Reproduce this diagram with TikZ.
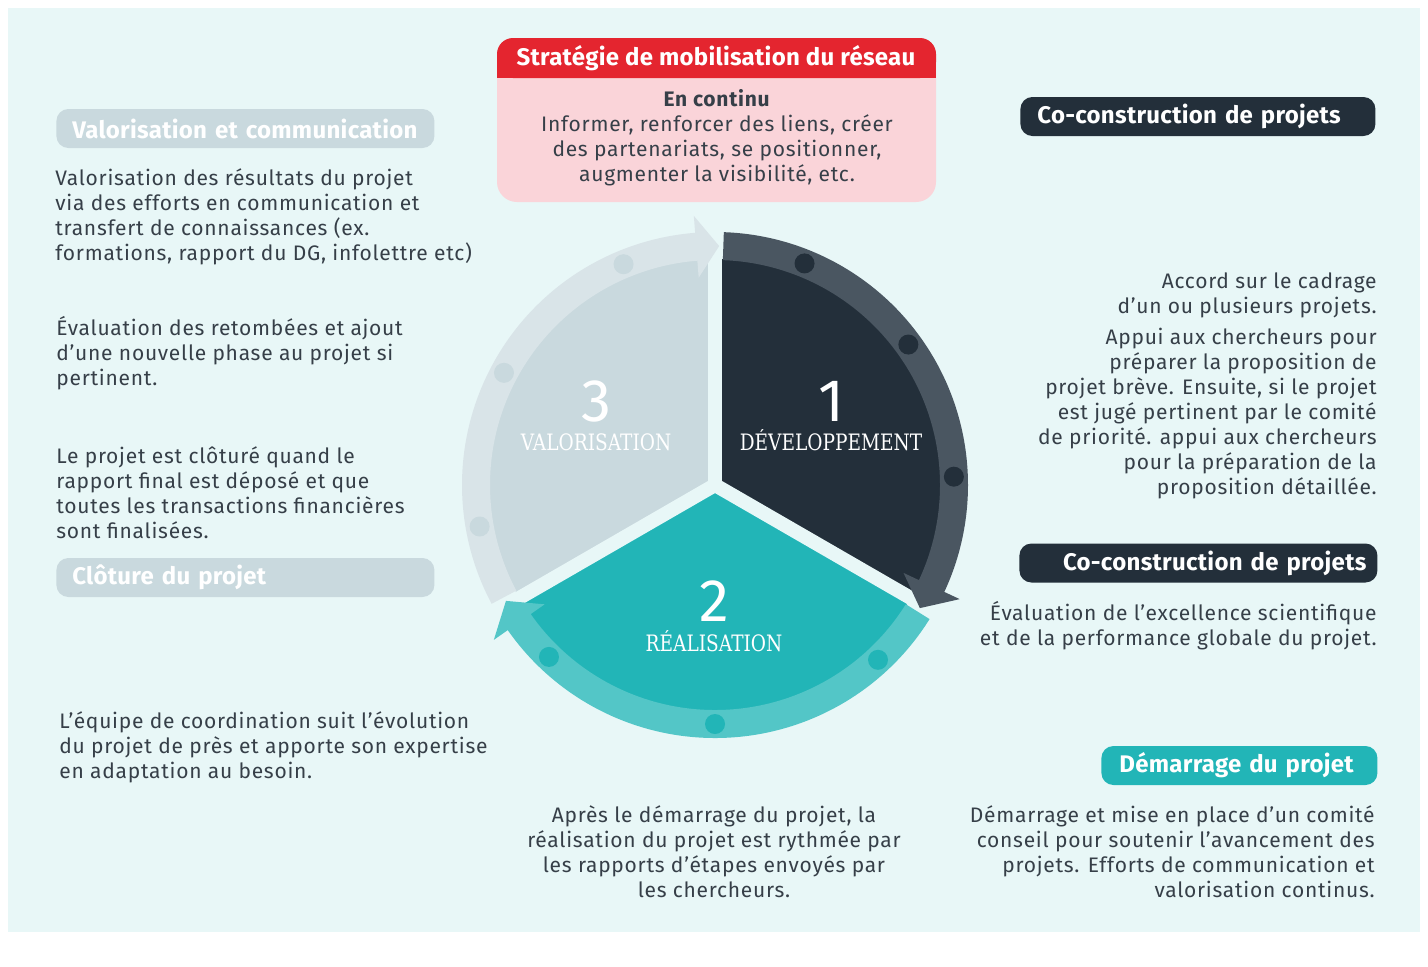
\documentclass[tikz,border=0pt]{standalone}
\usepackage{fontspec}
\setmainfont{Fira Sans}[LetterSpace=3.5]
\newfontfamily\tagfont{Fira Sans}[LetterSpace=1.2]
\newfontfamily\slabfont[FakeStretch=0.82]{DejaVu Serif}
\definecolor{bgcol}{HTML}{E8F7F7}
\definecolor{darkA}{HTML}{232F3A}
\definecolor{darkB}{HTML}{4A5661}
\definecolor{tealA}{HTML}{22B5B7}
\definecolor{tealB}{HTML}{53C6C7}
\definecolor{greyA}{HTML}{C9D9DE}
\definecolor{greyB}{HTML}{D9E4E8}
\definecolor{stratred}{HTML}{E4252F}
\definecolor{stratpink}{HTML}{FAD4D9}
\definecolor{txtcol}{HTML}{363F48}
\begin{document}
\begin{tikzpicture}[x=0.5pt,y=-0.5pt]
 \tikzset{txt/.style={font=\fontsize{10.5}{12.5}\selectfont, text=txtcol, inner sep=0pt}}
 \tikzset{tag/.style={font=\tagfont\bfseries\fontsize{12}{14}\selectfont, text=white, rounded corners=6pt, minimum height=19.5pt, inner ysep=0pt, anchor=west, align=left}}
 \tikzset{phase/.style={font=\slabfont\fontsize{11.3}{12}\selectfont, text=white, inner sep=0pt, anchor=base}}
 \tikzset{num/.style={font=\fontsize{30}{30}\selectfont, text=white, inner sep=0pt, anchor=base}}
  \useasboundingbox (0,0) rectangle (1428,966);
  \fill[bgcol] (8,8) rectangle (1420,932);
  % roue des phases
  \begin{scope}[shift={(715,485)}, y=0.5pt]
  \fill[darkA] (0,0) -- (90:226) arc (90:-30:226) -- cycle;
  \fill[tealA] (0,0) -- (-30:226) arc (-30:-150:226) -- cycle;
  \fill[greyA] (0,0) -- (210:226) arc (210:90:226) -- cycle;
  \draw[bgcol, line width=7pt, line cap=round] (0,0) -- (90:228);
  \draw[bgcol, line width=7pt, line cap=round] (0,0) -- (-30:228);
  \draw[bgcol, line width=7pt, line cap=round] (0,0) -- (210:228);
  \fill[darkB] (88:253) arc (88:-25:253) -- (-25:270) -- (-31:239) -- (-25:208) -- (-25:225) arc (-25:88:225) -- cycle;
  \fill[tealB] (-32:253) arc (-32:-145:253) -- (-145:270) -- (-151:239) -- (-145:208) -- (-145:225) arc (-145:-32:225) -- cycle;
  \fill[greyB] (208:253) arc (208:94.5:253) -- (94.5:270) -- (89:239) -- (94.5:208) -- (94.5:225) arc (94.5:208:225) -- cycle;
  \fill[darkA] (68:239) circle (10);
  \fill[darkA] (36:239) circle (10);
  \fill[darkA] (2:239) circle (10);
  \fill[tealA] (-47:239) circle (10);
  \fill[tealA] (-90:239) circle (10);
  \fill[tealA] (-134:239) circle (10);
  \fill[greyA] (190:239) circle (10);
  \fill[greyA] (152:239) circle (10);
  \fill[greyA] (112.5:239) circle (10);
  \end{scope}
  \node[num] (n3) at (596,421) {3};
  \node[phase] (valo) at (596,450) {VALORISATION};
  \node[num] (n1) at (831,421) {1};
  \node[phase] (dev) at (831,450) {DÉVELOPPEMENT};
  \node[num] (n2) at (714,621) {2};
  \node[phase] (real) at (714,651) {RÉALISATION};
  % strategie
  \fill[stratpink, rounded corners=10pt] (497,38) rectangle (936,202);
  \fill[stratred, rounded corners=8pt] (497,38) rectangle (936,78);
  \fill[stratred] (497,60) rectangle (936,78);
  \node[font=\tagfont\bfseries\fontsize{12}{14}\selectfont, text=white] (strat) at (716,58) {Stratégie de mobilisation du réseau};
  \node[txt, align=center] (continu) at (717,138) {\textbf{En continu}\\Informer, renforcer des liens, créer\\des partenariats, se positionner,\\augmenter la visibilité, etc.};
  % etiquettes
  \node[tag, fill=greyA, inner xsep=8pt, text width=173pt] (valtag) at (56,128.5) {Valorisation et communication};
  \node[tag, fill=greyA, inner xsep=8pt, text width=173pt] (clotag) at (56,577.5) {Clôture du projet};
  \node[tag, fill=darkA, inner xsep=8.5pt, text width=160.5pt] (cotagA) at (1020,116.5) {Co-construction de projets};
  \node[tag, fill=darkA, inner xsep=5.5pt, text width=168pt, align=right] (cotagB) at (1019,563) {Co-construction de projets};
  \node[tag, fill=tealA, inner xsep=9pt, text width=120pt] (demtag) at (1101,765.5) {Démarrage du projet};
  % textes
  \node[txt, align=left, anchor=west] (valtxt) at (55,216.5) {Valorisation des résultats du projet\\via des efforts en communication et\\transfert de connaissances (ex.\\formations, rapport du DG, infolettre etc)};
  \node[txt, align=left, anchor=west] (evaltxt) at (56,353) {Évaluation des retombées et ajout\\d'une nouvelle phase au projet si\\pertinent.};
  \node[txt, align=left, anchor=west] (clotxt) at (56,493) {Le projet est clôturé quand le\\rapport final est déposé et que\\toutes les transactions financières\\sont finalisées.};
  \node[txt, align=left, anchor=west] (suivitxt) at (59,747.5) {L'équipe de coordination suit l'évolution\\du projet de près et apporte son expertise\\en adaptation au besoin.};
  \node[txt, align=center] (realtxt) at (714,852) {Après le démarrage du projet, la\\réalisation du projet est rythmée par\\les rapports d'étapes envoyés par\\les chercheurs.};
  \node[txt, align=right, anchor=east] (accordtxt) at (1377,295) {Accord sur le cadrage\\d'un ou plusieurs projets.};
  \node[txt, align=right, anchor=east] (appuitxt) at (1377,414) {Appui aux chercheurs pour\\préparer la proposition de\\projet brève. Ensuite, si le projet\\est jugé pertinent par le comité\\de priorité. appui aux chercheurs\\pour la préparation de la\\proposition détaillée.};
  \node[txt, align=right, anchor=east] (excltxt) at (1377,626) {Évaluation de l'excellence scientifique\\et de la performance globale du projet.};
  \node[txt, align=right, anchor=east] (demtxt) at (1375,852) {Démarrage et mise en place d'un comité\\conseil pour soutenir l'avancement des\\projets. Efforts de communication et\\valorisation continus.};
\end{tikzpicture}
\end{document}
